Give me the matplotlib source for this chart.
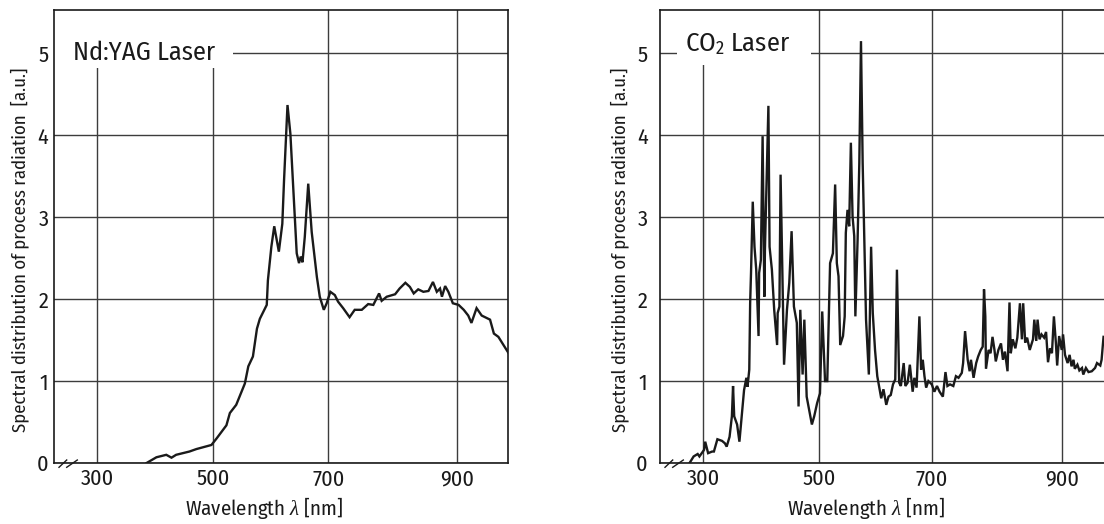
import matplotlib
matplotlib.use('Agg')
import matplotlib.pyplot as plt
from matplotlib import font_manager
from matplotlib.patches import Rectangle
import numpy as np

# condensed sans, close to the printed figure
names = {f.name for f in font_manager.fontManager.ttflist}
FONT = 'Fira Sans Condensed' if 'Fira Sans Condensed' in names else 'DejaVu Sans'
plt.rcParams['font.family'] = [FONT, 'DejaVu Sans']
plt.rcParams['mathtext.fontset'] = 'custom'
plt.rcParams['mathtext.rm'] = FONT
plt.rcParams['mathtext.it'] = 'Liberation Serif:italic'

INK = '#1a1a1a'
GRID = '#3c3c3c'

# ---- data ----
nd_wl = [385, 402, 419, 428, 436, 459, 471, 497, 506, 523,
         529, 540, 555, 561, 569, 576, 581, 593, 595, 601,
         606, 614, 620, 623, 629, 634, 645, 649, 652, 655,
         659, 665, 671, 680, 685, 692, 697, 703, 710, 715,
         723, 733, 741, 752, 762, 770, 779, 783, 791, 804,
         811, 820, 827, 833, 840, 848, 856, 863, 869, 874,
         877, 882, 887, 894, 903, 911, 918, 923, 931, 939,
         952, 958, 965, 973, 981]
nd_val = [0, 0.07, 0.10, 0.065, 0.10, 0.14, 0.17, 0.22, 0.30, 0.46,
          0.61, 0.71, 0.97, 1.18, 1.30, 1.64, 1.76, 1.93, 2.23, 2.64,
          2.89, 2.58, 2.92, 3.45, 4.37, 4.02, 2.56, 2.44, 2.52, 2.45,
          2.76, 3.41, 2.82, 2.27, 2.03, 1.87, 1.95, 2.09, 2.05, 1.97,
          1.89, 1.78, 1.87, 1.87, 1.94, 1.93, 2.07, 1.98, 2.03, 2.06,
          2.13, 2.20, 2.15, 2.07, 2.12, 2.09, 2.10, 2.21, 2.09, 2.13,
          2.03, 2.16, 2.09, 1.95, 1.93, 1.87, 1.80, 1.71, 1.89, 1.80,
          1.75, 1.58, 1.54, 1.44, 1.34]

co2_wl = [276, 283, 290, 293, 301, 303, 308, 315, 318, 324,
          332, 337, 340, 345, 349, 351, 353, 358, 362, 366,
          370, 374, 376, 379, 380.5, 382, 385, 388, 391, 395,
          396, 399, 402, 405, 406, 412, 414, 418, 422, 427,
          428, 431, 433, 439, 444, 448, 452, 456, 461, 464,
          467, 471, 474, 478, 487, 491, 496, 501, 505, 510,
          514, 519, 524, 528, 531, 534, 537, 542, 545, 547,
          550, 553, 556, 559, 562, 564, 568, 571, 574, 577,
          580, 583, 588, 592, 595, 599, 603, 610, 614, 619,
          623, 627, 631, 635, 638, 642, 645, 650, 653, 657,
          661, 666, 669, 673, 678, 681, 684, 687, 690, 694,
          700, 704, 708, 712, 717, 721, 724, 728, 733, 737,
          741, 746, 748, 751, 755, 758, 760, 764, 768, 771,
          775, 778, 780, 782, 783, 787, 790, 793, 796, 798,
          802, 806, 809, 812, 816, 819, 821, 824, 828, 831,
          835, 838, 840, 843, 846, 850, 855, 857, 860, 862,
          865, 868, 872, 875, 878, 881, 884, 887, 890, 892,
          895, 899, 901, 904, 908, 911, 914, 917, 919, 923,
          926, 930, 932, 936, 940, 945, 950, 953, 958, 960,
          963]
co2_val = [0, 0.08, 0.11, 0.08, 0.16, 0.26, 0.12, 0.14, 0.14, 0.29,
           0.27, 0.24, 0.20, 0.32, 0.57, 0.94, 0.57, 0.47, 0.26, 0.57,
           0.89, 1.04, 0.93, 1.14, 1.95, 2.32, 3.19, 2.64, 2.36, 1.55,
           2.32, 2.48, 3.99, 2.03, 2.60, 4.36, 2.64, 2.36, 1.87, 1.44,
           1.83, 1.91, 3.52, 1.20, 1.87, 2.20, 2.83, 1.91, 1.71, 0.69,
           1.87, 1.08, 1.75, 0.81, 0.47, 0.57, 0.73, 0.85, 1.85, 1.00,
           1.00, 2.44, 2.56, 3.40, 2.44, 2.28, 1.44, 1.55, 1.79, 2.81,
           3.09, 2.89, 3.91, 3.01, 2.77, 1.79, 2.73, 3.66, 5.15, 3.66,
           2.69, 1.75, 1.08, 2.64, 1.83, 1.38, 1.06, 0.79, 0.90, 0.71,
           0.81, 0.83, 0.96, 1.02, 2.36, 0.98, 0.94, 1.22, 0.94, 0.98,
           1.20, 0.87, 1.04, 0.92, 1.79, 1.14, 1.26, 1.06, 0.92, 1.00,
           0.96, 0.87, 0.94, 0.87, 0.81, 1.11, 0.94, 0.96, 0.94, 1.06,
           1.04, 1.10, 1.22, 1.61, 1.26, 1.12, 1.26, 1.04, 1.22, 1.30,
           1.38, 1.42, 2.12, 1.79, 1.15, 1.38, 1.34, 1.54, 1.38, 1.24,
           1.38, 1.46, 1.26, 1.36, 1.12, 1.96, 1.34, 1.51, 1.40, 1.53,
           1.95, 1.51, 1.95, 1.47, 1.53, 1.38, 1.51, 1.75, 1.49, 1.75,
           1.51, 1.57, 1.53, 1.60, 1.23, 1.40, 1.34, 1.79, 1.47, 1.19,
           1.55, 1.38, 1.57, 1.32, 1.22, 1.32, 1.18, 1.26, 1.15, 1.20,
           1.13, 1.16, 1.08, 1.16, 1.11, 1.12, 1.16, 1.22, 1.19, 1.26,
           1.54]

x_ticks = [300, 500, 700, 900]
y_ticks = [0, 1, 2, 3, 4, 5]

# the printed wavelength axis is not evenly spaced: piecewise linear scale
SCALE_WL = [0, 300, 500, 700, 900, 1500]
LEFT_PX = [-75.25, 98, 213.5, 328.5, 456.5, 840.5]
RIGHT_PX = [529.3, 703.3, 819.3, 931.7, 1062.4, 1454.5]


def piecewise(px_knots):
    wl = np.asarray(SCALE_WL, float)
    px = np.asarray(px_knots, float)
    return (lambda x: np.interp(x, wl, px), lambda p: np.interp(p, px, wl))


fig = plt.figure(figsize=(11.04, 5.24), dpi=100)
W, H = 1104, 524
ax1 = fig.add_axes([54 / W, (H - 463) / H, 454 / W, 453 / H])
ax2 = fig.add_axes([660 / W, (H - 463) / H, 444 / W, 453 / H])


def panel(ax, wl, val, px_knots, xmax, width_px, title, title_xy, box, ylab_x, ypad):
    ax.set_xscale('function', functions=piecewise(px_knots))
    ax.set_xlim(225, xmax)
    ax.set_ylim(0, 5.53)
    ax.set_xticks(x_ticks)
    ax.set_yticks(y_ticks)
    ax.grid(True, color=GRID, lw=1.0)
    ax.tick_params(axis='both', length=0, labelsize=16, colors=INK)
    ax.tick_params(axis='x', pad=4)
    ax.tick_params(axis='y', pad=ypad)
    for s in ax.spines.values():
        s.set_color(INK)
        s.set_linewidth(1.2)

    ax.plot(wl, val, color=INK, lw=1.7, zorder=2, solid_joinstyle='miter')

    # white patch behind the title knocks out the grid
    ax.add_patch(Rectangle((box[0], box[1]), box[2] - box[0], 1.01 - box[1],
                           transform=ax.transAxes, facecolor='white',
                           edgecolor='none', zorder=1.8))
    ax.text(title_xy[0], title_xy[1], title, transform=ax.transAxes,
            fontsize=19, color=INK, va='baseline', ha='left', zorder=3)

    ax.set_xlabel(r'Wavelength $\lambda$ [nm]', fontsize=15, color=INK)
    ax.xaxis.set_label_coords(0.464, -0.07)
    ax.set_ylabel('Spectral distribution of process radiation  [a.u.]',
                  fontsize=13.5, color=INK)
    ax.yaxis.set_label_coords(ylab_x, 0.47)

    # axis break marks near the origin
    for a, b in [(5, 12.7), (12.7, 23.3)]:
        ax.plot([a / width_px, b / width_px], [-0.0095, 0.0066],
                transform=ax.transAxes, color=INK, lw=1.0, clip_on=False, zorder=4)


panel(ax1, nd_wl, nd_val, LEFT_PX, 980, 454, 'Nd:YAG Laser',
      (0.042, 0.889), (0.0, 0.872, 0.394), -0.055, 4)
panel(ax2, co2_wl, co2_val, RIGHT_PX, 963.7, 444, 'CO$_2$ Laser',
      (0.056, 0.908), (0.038, 0.879, 0.340), -0.070, 9)
ax2.spines['right'].set_visible(False)

fig.savefig('out.png', dpi=100, facecolor='white')
